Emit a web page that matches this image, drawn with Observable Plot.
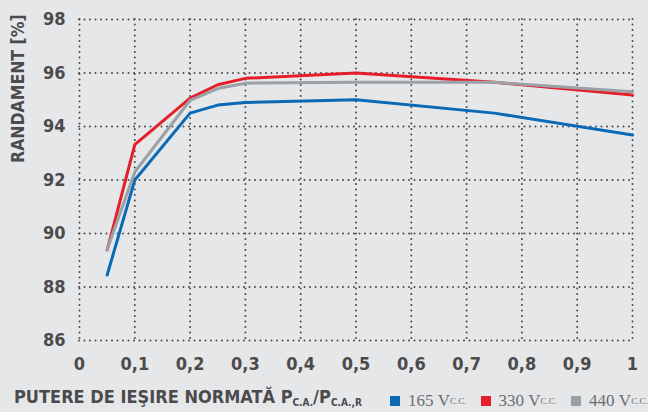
<!DOCTYPE html>
<html>
<head>
<meta charset="utf-8">
<script src="https://cdn.jsdelivr.net/npm/d3@7"></script>
<script src="https://cdn.jsdelivr.net/npm/@observablehq/plot@0.6"></script>
<style>
  html, body { margin: 0; padding: 0; background: #e6e7e9; }
  #wrap { position: relative; width: 648px; height: 412px; overflow: hidden; background: #e6e7e9; }
  .cond { font-family: "Liberation Sans Narrow", "DejaVu Sans Condensed", "Arial Narrow", sans-serif; font-weight: bold; font-stretch: condensed; color: #4b4b4d; }
  #ytitle { position: absolute; left: 9px; top: 163px; font-size: 17.5px; line-height: 18px; white-space: nowrap; transform: rotate(-90deg); transform-origin: left top; }
  #xlabel { position: absolute; left: 14px; top: 386px; font-size: 18px; white-space: nowrap; }
  #xlabel sub { font-size: 10px; vertical-align: -3px; }
  #legend { position: absolute; left: 390px; top: 391px; font-family: "Liberation Serif", "DejaVu Serif", serif; font-size: 17px; color: #6b6e72; white-space: nowrap; display: flex; gap: 14px; }
  #legend .item { display: flex; align-items: center; }
  #legend .sw { display: inline-block; width: 10px; height: 10px; margin-right: 8px; }
  #legend sub { font-size: 9px; vertical-align: -3px; }
</style>
</head>
<body>
<div id="wrap">
  <div id="chart"></div>
  <div id="ytitle" class="cond"></div>
  <div id="xlabel" class="cond">PUTERE DE IEŞIRE NORMATĂ P<sub>C.A.</sub>/P<sub>C.A.,R</sub></div>
  <div id="legend"></div>
</div>
<script>
const load = [0.05, 0.1, 0.2, 0.25, 0.3, 0.5, 0.75, 1];
const eff165 = [88.45, 92.0, 94.5, 94.8, 94.9, 95.0, 94.5, 93.68];
const eff330 = [89.38, 93.32, 95.06, 95.56, 95.8, 96.0, 95.65, 95.18];
const eff440 = [89.4, 92.3, 94.98, 95.42, 95.62, 95.65, 95.65, 95.3];
const seriesNames = ["165", "330", "440"];
const seriesColors = ["#0a6ab6", "#e51f2a", "#9aa2a7"];
const xTicks = [0, 0.1, 0.2, 0.3, 0.4, 0.5, 0.6, 0.7, 0.8, 0.9, 1];
const yTicks = [86, 88, 90, 92, 94, 96, 98];
const yTitle = "RANDAMENT [%]";

const allSeries = [eff165, eff330, eff440];
const rows = [];
allSeries.forEach((vals, i) => vals.forEach((v, j) => rows.push({series: seriesNames[i], x: load[j], y: v})));

const fmt = d => String(d).replace(".", ",");
const condFont = '"Liberation Sans Narrow", "DejaVu Sans Condensed", sans-serif';
const gridStyle = { stroke: "#4a4a4d", strokeOpacity: 1, strokeWidth: 2, strokeDasharray: "0 5.5", strokeLinecap: "round" };

const chart = Plot.plot({
  width: 648,
  height: 375,
  marginLeft: 79,
  marginRight: 16,
  marginTop: 19,
  marginBottom: 35,
  style: { background: "#e6e7e9", fontFamily: condFont, overflow: "visible" },
  x: { domain: [0, 1], ticks: xTicks, tickFormat: fmt },
  y: { domain: [86, 98], ticks: yTicks },
  color: { domain: seriesNames, range: seriesColors },
  marks: [
    Plot.ruleX(xTicks, { x: d => d, ...gridStyle }),
    Plot.ruleY(yTicks, { y: d => d, ...gridStyle }),
    Plot.axisX(xTicks, { tickSize: 0, tickPadding: 17, tickFormat: fmt, label: null, fontSize: 18, fontWeight: "bold", fill: "#4b4b4d" }),
    Plot.axisY(yTicks, { tickSize: 0, tickPadding: 14, label: null, fontSize: 18, fontWeight: "bold", fill: "#4b4b4d" }),
    Plot.line(rows, { x: "x", y: "y", z: "series", stroke: "series", strokeWidth: 3 })
  ]
});
document.getElementById("chart").appendChild(chart);
document.getElementById("ytitle").textContent = yTitle;

const legend = document.getElementById("legend");
seriesNames.forEach((n, i) => {
  const item = document.createElement("span");
  item.className = "item";
  item.innerHTML = `<span class="sw" style="background:${seriesColors[i]}"></span>${n}&nbsp;V<sub>C.C.</sub>`;
  legend.appendChild(item);
});
</script>
</body>
</html>
